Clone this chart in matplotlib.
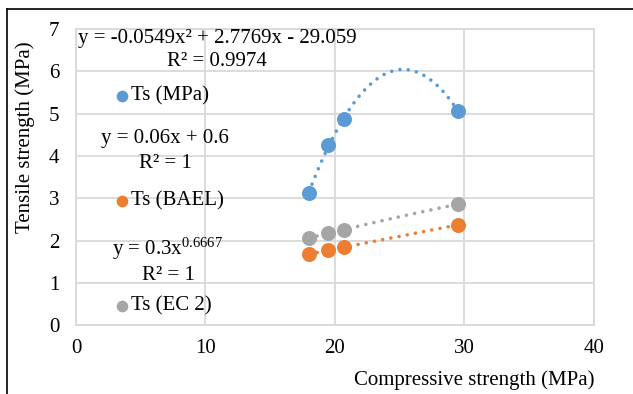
import numpy as np
import matplotlib.pyplot as plt
from matplotlib.lines import Line2D

# data
comp = [18.0, 19.5, 20.7, 29.5]
ts_mpa = [3.13, 4.27, 4.87, 5.07]
ts_bael = [1.68, 1.77, 1.84, 2.37]
ts_ec2 = [2.06, 2.17, 2.26, 2.86]

blue = '#5B9BD5'
orange = '#ED7D31'
gray = '#A5A5A5'

plt.rcParams['font.family'] = ['Liberation Serif', 'DejaVu Serif']
plt.rcParams['mathtext.fontset'] = 'custom'
plt.rcParams['mathtext.rm'] = 'Liberation Serif'
plt.rcParams['mathtext.default'] = 'regular'
fs = 15

fig = plt.figure(figsize=(6.33, 3.94), dpi=100)
ax = fig.add_axes([0.120, 0.175, 0.818, 0.751])

x = np.array(comp)
xs = np.linspace(x.min(), x.max(), 200)

# trendlines (fitted from the points)
p2 = np.polyfit(x, ts_mpa, 2)
p1 = np.polyfit(x, ts_bael, 1)
pw = np.polyfit(np.log(x), np.log(ts_ec2), 1)
trend_kw = dict(lw=2.6, linestyle=(0, (0.01, 2.3)), dash_capstyle='round', zorder=2)
ax.plot(xs, np.polyval(p2, xs), color=blue, **trend_kw)
ax.plot(xs, np.polyval(p1, xs), color=orange, **trend_kw)
ax.plot(xs, np.exp(pw[1]) * xs ** pw[0], color=gray, **trend_kw)

ax.plot(x, ts_mpa, 'o', color=blue, ms=10.8, mec='none', zorder=3)
ax.plot(x, ts_bael, 'o', color=orange, ms=10.8, mec='none', zorder=3)
ax.plot(x, ts_ec2, 'o', color=gray, ms=10.8, mec='none', zorder=3)

ax.set_xlim(0, 40)
ax.set_ylim(0, 7)
ax.set_xticks(range(0, 41, 10))
ax.set_yticks(range(0, 8))
ax.grid(True, color='#D9D9D9', lw=1.3)
ax.set_axisbelow(True)
for s in ax.spines.values():
    s.set_color('#D9D9D9')
    s.set_linewidth(1.3)
ax.tick_params(length=0, labelsize=fs, pad=12)
ax.tick_params(axis='x', pad=10)

fig.text(595 / 633, 1 - 380 / 394, 'Compressive strength (MPa)', ha='right', va='center', fontsize=fs)
fig.text(25 / 633, 1 - 137 / 394, 'Tensile strength (MPa)', ha='center', va='center', rotation=90, fontsize=fs)

# trendline labels and legend entries placed in the left part of the chart
def ftext(px, py, s, **kw):
    fig.text(px / 633, 1 - py / 394, s, fontsize=fs, va='center', **kw)

ftext(217, 38, 'y = -0.0549x² + 2.7769x - 29.059', ha='center')
ftext(217, 62, 'R² = 0.9974', ha='center')
ftext(165, 139, 'y = 0.06x + 0.6', ha='center')
ftext(165, 163, 'R² = 1', ha='center')
ftext(168, 249, 'y = 0.3x$^{0.6667}$', ha='center')
ftext(168, 275, 'R² = 1', ha='center')

for py, c, lab in [(96, blue, 'Ts (MPa)'), (201, orange, 'Ts (BAEL)'), (306, gray, 'Ts (EC 2)')]:
    fig.add_artist(Line2D([122 / 633], [1 - py / 394], marker='o', color=c, ms=8.4, mec='none',
                          transform=fig.transFigure))
    ftext(131, py, lab, ha='left')

# black frame on top and left
fig.add_artist(Line2D([7 / 633, 1], [1 - 9 / 394, 1 - 9 / 394], color='black', lw=1.2, transform=fig.transFigure))
fig.add_artist(Line2D([7 / 633, 7 / 633], [0, 1 - 9 / 394], color='black', lw=1.2, transform=fig.transFigure))

fig.savefig('out.png', dpi=100)
